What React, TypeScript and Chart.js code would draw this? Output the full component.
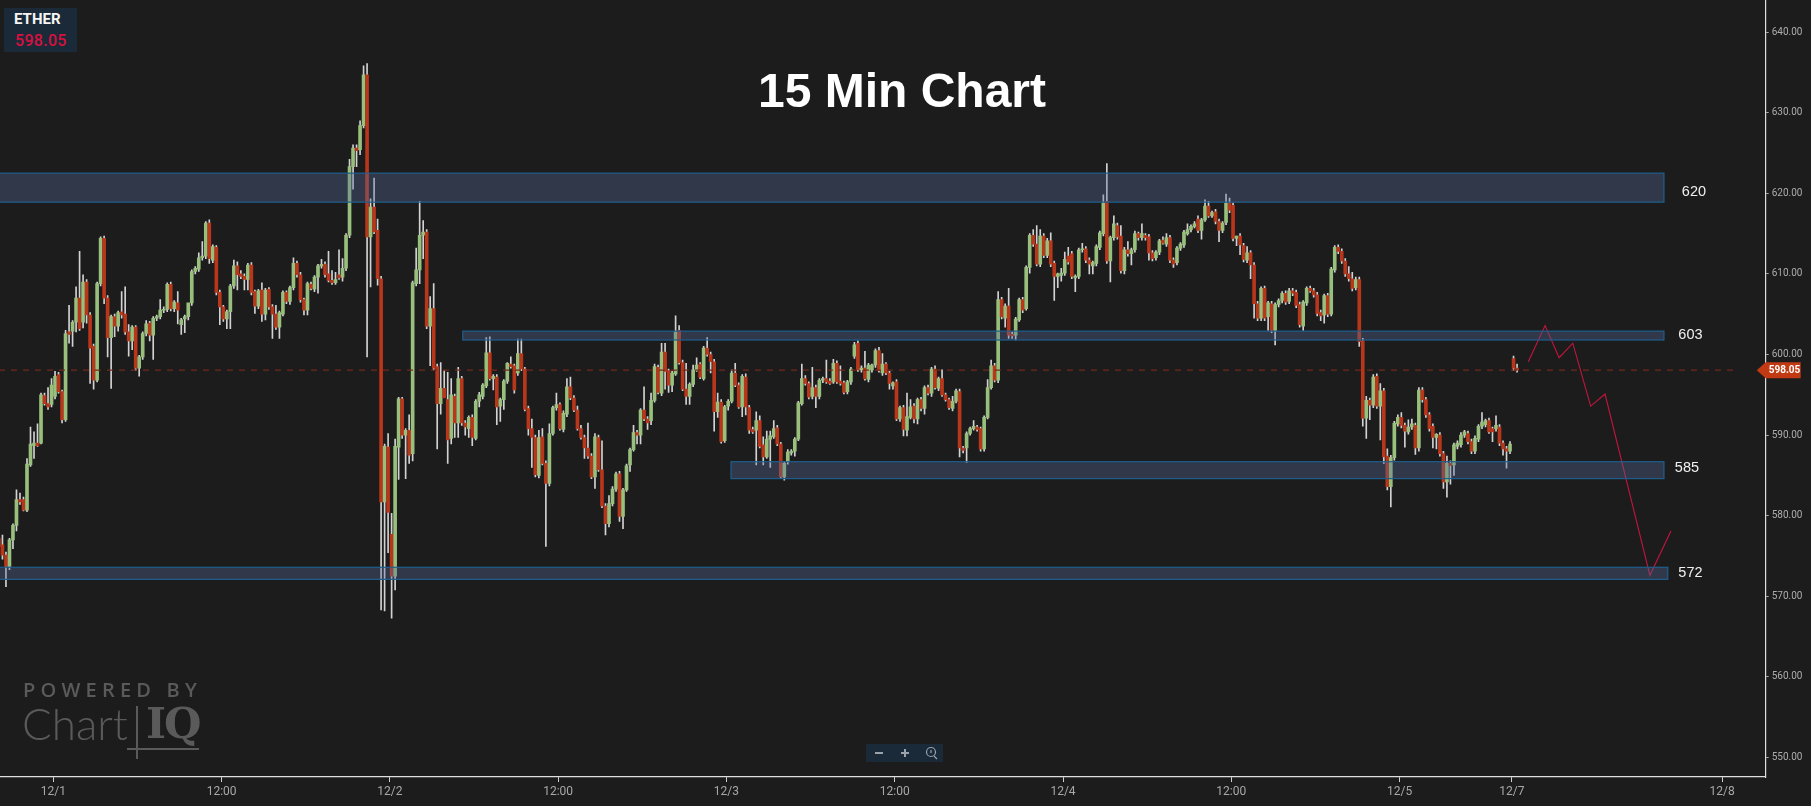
import React, { useEffect, useRef } from "react";
import { Chart, registerables } from "chart.js";
Chart.register(...registerables);

// rows: open, high, low, close
const candlesDec1: number[][] = [
[577.2,578,576,576.2],[576.4,577.6,574.6,575.1],[575.1,575.5,571.2,573.7],[573.7,577.2,573.3,577],[577,579,575.9,578.8],[578.8,583.2,578.1,582],[582,582.8,581.4,581.7],[582,582.3,580.6,580.7],[580.7,587.1,580.5,586.4],[586.3,591,586.1,588.9],[588.7,590.4,587.1,589],[589,591.4,588.6,588.7],[589,595.2,588.9,595],
[594.9,595.2,593.7,593.9],[593.9,595.9,593.2,593.5],[593.8,597,593.5,596.2],[594.8,597.9,594.5,597.3],[597.5,597.8,595.2,595.4],[595.4,595.6,591.5,591.9],[591.9,603,591.7,602.6],[602.8,606.1,601.4,602.5],[602.9,604.2,601,604],[604,608.4,602.8,607],[607,612.8,603,603.2],[604,609.9,603.3,609],[609,609.3,603.9,604.9],[604.9,605.2,596.4,600.8],[601,601.3,595.7,596.8],[596.8,609,596.6,608.8],[608.8,614.6,608.5,614.4],[614.4,614.7,606.3,607],[607,607.3,599.7,602.1],[602.1,604.9,595.8,604.7],[604.7,605,602.2,603.5],[603.5,605.4,602.9,605.2],[605.3,607.8,604.5,604.9],[605,608.4,602.5,602.8],[602.8,603.7,599.8,601.7],[601.7,603.6,600.6,603.4],[603.4,603.6,598,598.3],[598.3,599.9,597.3,599.7],[599.7,602.8,599.4,602.6],[602.6,604.2,602.3,603.8],[603.9,604.1,601.7,602.4],[602.4,604.7,599.4,604.5],[604.5,604.9,604.2,604.7],[604.7,606.8,604.4,605.5],[605.5,605.9,605.2,605.6],[605.6,608.9,605.3,608.7],
[608.7,609,605.4,605.7],[605.7,606.7,605.3,606.5],[606.4,607.8,603.8,605.5],[603.7,604.5,602.5,604.3],[604.4,604.9,602.7,604.7],[604.7,604.9,604.3,606.4],[606.4,610.5,606.1,610.3],[610.3,610.9,610,610.7],[610.6,612.6,610.3,612],[612,614,611.7,612.2],[612.2,616.5,611.9,616.3],[616.3,616.7,611.3,611.9],[611.7,613.6,611.4,613.4],[613.3,613.5,607.4,607.7],[607.7,608,603.7,605.9],[605.9,606.1,604.1,604.4],[604.4,605.5,603.2,605.3],[605.3,608.7,603.2,608.5],[608.5,611.7,608.2,611],[611,611.5,608,609.9],[610,610.4,609.4,609.7],[609.7,610,608,609.3],[609.3,611.3,608,611.1],[611.1,611.4,607.4,607.7],[607.8,608,605.1,606],[606,608.1,605.7,607.9],[608,608.9,604.1,605],[605,608.2,604.3,608],[608.1,608.3,605.6,605.9],[605.9,606.2,602,605],[605,606.1,603.1,603.4],[603.4,605.4,602,605.2],[605,607.9,604.8,607.7],[607.7,607.9,606.3,606.6],[606.6,608.5,606.2,608.3],[608.3,612,608,611.3],[611.3,611.6,609.6,609.9],[609.9,610.2,606.5,606.8],[606.8,607,604.9,605.5],[605.5,609,604.9,608.8],[608.7,609,608,608.2],[608.1,609.8,607.8,609.6],[609.6,611.2,607.6,611],[611,611.8,610.7,611.2],[611.2,611.5,609.6,609.9],[610,612.8,609,609.2],[609.2,610.4,608.7,608.9],[608.9,610.2,608.7,609.3],
[609.9,613,609.3,609.5],[609.6,611.9,609.1,610.7],[610.7,615,610.4,614.8],[614.8,624.2,614.5,623.3],[623.3,626,620.5,625.6],[625.6,626,623.3,625.3],[625.4,629,624.8,628.4],[628.4,635.8,628.1,634.7],[634.7,636.1,599.7,614.6],[614.6,619.3,608.4,618.3],[618.3,621.9,615,615.2],[615.4,616.8,608.6,609.4],[609.4,609.7,568.3,581.7],[581.7,588.9,568.2,588.6],[588.5,590.2,575.4,580.4],[577.7,580.3,567.3,572.5],[572.5,589.5,570.8,588.6],[588.5,594.7,584.5,594.5],[594.5,594.7,589.6,590],[590,590.8,584.6,590.6],[590.6,592.5,586.5,587.5],[587.7,609.1,586.8,608.9],[608.8,613.2,608.5,610.5],[610.5,619,608.8,614.8],[614.8,616.6,611.9,615.2],[615.2,615.5,603.2,603.5],[603.5,607.2,598.6,605.7],[605.7,608.8,598.1,598.3],[598.5,598.8,588.3,593.9],[593.9,599,592.6,595.8],[595.8,598,594.8,594.6],[594.4,597.8,586.5,589.4]
];
const candlesDec2: number[][] = [
[589.6,597,588.9,595],[594.8,595.1,589.7,591.5],[591.5,598.4,589.7,597],[597,597.3,591.2,591.5],[591.5,591.8,590,591],[590.8,592.4,589.7,592.2],[592.2,592.5,588.7,589.7],[589.6,594.4,589.4,594.2],[594.2,595.3,593.5,595],[594.8,596.4,594.5,596.2],[596.1,602.1,595.9,600.2],[600.2,602.2,596.8,597],[597,597.5,595.6,597.3],[597.2,597.5,591.3,593.5],[593.6,594.6,591.7,594.4],[594.4,596.9,593.2,596.7],[596.7,599,596.4,598.9],[598.8,599.7,598.3,598.5],[598.6,598.8,595.2,595.6],[597.7,601.9,597.4,600.1],[600.1,601.9,598,598.2],[598.2,598.4,593,593.2],[593.3,593.6,590,590.8],[590.8,592,586,589.7],[589.7,590,584.8,585.1],[585,590.6,584.7,589.7],[589.8,590.8,586.3,586.5],[586.5,586.8,576.2,584],[584,591.4,583.7,590.2],[590.2,593.6,590,593.4],[593.4,595.2,593.1,593.8],[593.8,594,590.6,590.8],[590.7,593,590.4,592.7],[592.6,597,592.3,596],[596,597.2,594.4,594.6],[594.6,594.9,592.9,593.1],[593.1,593.6,590.6,590.8],[590.8,591.2,589.5,589.7],[589.7,590,587.1,588.4],[588.4,591.5,587.1,587.4],[587.4,587.7,584.6,584.8],[584.8,590.2,583.4,589.8],[589.7,590,585.5,585.7],[585.7,589.3,581,581.2],[581.2,581.5,577.6,579],[579,582.5,578.6,581.5],[581.5,583.6,581.2,583.3],[583.3,585.4,583,585.2],[585.2,585.5,579.3,579.9],[579.9,583.4,578.4,583.2],[583.2,586.4,583,586.2],[586.3,588.4,585.5,588.2],[588.2,591.2,588,590.3],[590.3,590.6,588.9,590],[590,593.3,588.9,593.1],[593.1,596,591.8,592],[592,592.3,590.7,591.5],[591.8,595.2,591.3,594.3],[594.3,598.8,594.1,598.5],[598.4,598.7,595.1,595.3],[595.2,601.4,594.9,600.3],[600.3,601.4,595.7,597.9],[598,598.2,595.3,596.2],[596.2,597.9,595.4,597.7],[597.6,604.8,597.4,602.8],[603,603.6,598.8,599],[599,599.3,595.5,595.7],[595.7,598.9,593.8,594.8],[594.8,596.5,593.8,596.3],[596.3,598.7,596,598.1],[598.1,599.6,597.9,598.7],[598.8,599,597,597.2],[597,601,596.8,600.8],[600.8,602.1,599.8,600],[600,600.3,597.7,599.1],[599.1,599.4,590.5,592.9],[592.9,595.2,592.2,594.1],[594.1,594.4,589,589.2],[589.3,593.7,589.1,593.5],[593.6,594.4,593.1,594.2],[594.2,598.1,594,597.7],[597.7,598.9,596,596.2],[596.2,596.5,593.3,593.5],[593.5,597.5,592.3,597.3],[597.2,597.6,592.5,593.5],[593.4,593.7,590.2,590.6],[590.7,591,590.2,590.4],[590.6,592.9,586.3,591.8],[591.8,592.4,588.4,588.6],[588.8,589.8,586.3,587.3],[587.3,590.5,587.1,589.5],[589.5,590.5,586,589.9],[589.8,591.8,589.6,590.8],[590.9,591.2,588.7,588.9],[588.9,589.1,584.6,584.8],[584.8,586.7,584.4,586.5],[586.7,588.2,586.4,587.9],[587.8,588.2,587.5,588],[588,589.7,587.4,589.5],[589.5,594.2,589.3,594],[593.9,598.8,593.7,597],[597,597.4,596.2,596.4],[596.4,596.6,594.5,594.7],[594.8,598.4,594.5,595.9],[595.9,596.2,593.4,594.8],[594.8,597,594.5,596.8],[596.8,597.2,596.5,597],[597,599.3,596.4,596.6],[596.7,597,596.3,596.4],[596.6,599.4,596.4,598.9],[598.9,599.2,596.4,596.6],[596.7,598.6,596.2,596.4],[596.5,596.7,595.1,595.3],[595.4,596.8,595.1,596.6],[596.6,598.4,596.3,598.2],[599.8,601.5,599.5,601.2],[601.4,601.7,597.9,598.1],[598.1,598.6,597.8,598.3],[598.3,600.4,596.8,597],[596.9,598.9,596.6,598.7],[598.1,598.8,597.8,598.7],[598.7,600.7,598.4,600.5],[600.5,600.9,597.8,598],[597.7,600.1,597.4,598.8],[598.8,599,597.5,597.7],[597.7,597.9,595.7,596.4],[596.1,596.6,595.7,596.5],[596.6,596.9,591.8,592],[592,593.6,591.7,593.4],[593.4,593.7,589.9,590.7],[590.6,595.2,589.9,592.3],[592.2,594.4,592,593.5],[593.6,593.9,591.5,592],[592,594.6,591.4,594.4],[594.4,594.7,593,593.3],[593.3,596.1,592.6,595.9],[595.9,596.2,595,595.2],[595.2,598.4,594.8,598.2],[598.2,598.6,595.7,595.9],[595.8,597.2,595.5,597],[597,598.1,594.8,595],[595,595.2,594.2,594.4],[594.4,594.6,593.2,593.4],[593.3,594.8,593,594.2],[594.2,595.7,594,595.5],[595.4,595.7,587.3,588.4],[588.4,588.6,587.8,588.1],[588.4,590.4,586.6,590.2],[590.2,591,590,590.8],[590.8,591.8,590.6,591.1],[591,591.2,590.5,590.7],[590.8,591,588,588.3],[588.3,592.4,588,592.2],[592.2,596.9,592,595.9],[595.9,599.3,595.7,598.6],[598.6,598.9,596.6,596.8]
];
const candlesDec3: number[][] = [
[596.8,607.8,596.5,606.8],[606.8,607.1,604.4,604.7],[604.5,606.3,603.4,606],[606,608.2,602,602.4],[602.5,602.8,602,602.3],[602.4,604.6,601.8,604.4],[604.3,607,604.1,606.8],[606.8,607.1,605.2,605.5],[605.7,611,605.5,610.8],[610.8,615,610.1,614.8],[614.8,615.5,613.4,613.7],[613.7,616,611,611.2],[611.2,615.5,610.9,614.7],[614.7,615,612,612.3],[612.3,614.4,612,614.1],[614.1,615.1,610.9,611.2],[611.3,611.6,606.7,609.7],[609.7,610.1,608.3,610],[609.8,610.7,609.1,610.1],[610.1,612.7,609.8,611.8],[612.2,613.3,611.2,611.5],[612.5,612.8,609.4,609.7],[609.5,609.9,607.8,609.7],[609.7,613.2,609.4,613],[613,613.8,612.7,613.1],[613.1,613.4,611.4,611.7],[611.7,612,610,611.2],[611,611.6,610,611.4],[611.3,613.6,611,613.4],[613.3,615.3,613,615.1],[615,619.8,614.7,618.8],[619,623.7,611.3,611.6],[611.6,614.7,609,614.5],[614.5,617.2,614.2,616.2],[616,616.3,614.3,614.6],[614.7,616,610.1,610.4],[610.4,613.3,610,613],[613,614,612.2,612.5],[612.5,613.2,611.1,613],[613,615.3,612.7,615],[615,615.2,614.2,614.5],[614.5,616.2,614.2,615],[614.8,615,614.2,614.5],[614.6,614.9,611.7,612.6],[612.6,612.9,611.6,611.9],[612,612.9,611.7,612.7],[612.7,614.3,612.4,614.1],[614.2,614.6,613.7,613.8],[613.7,615,613.4,614.5],[614.5,614.8,611.4,611.7],[611.7,612,610.8,611.2],[611.4,613.4,611.1,613.2],[613.2,613.9,612.9,613.7],[613.6,615.4,613.3,615.2],[615,616.2,614.8,615.5],[615.5,616.1,615.2,615.9],[615.9,616.5,615.7,616.2],[616.8,617.2,615.1,615.4],[615.4,616.9,614.3,616.7],[616.7,619.2,616.5,618.4],[618.4,619,617,617.2],[617.2,617.8,617,617.6],[617.7,618,616.2,616.5],[616.5,616.8,614,615.4],[615.4,616.5,615.1,616.3],[616.4,619.9,616.1,618.8],[618.8,619.4,617.6,617.9],[618.5,618.8,614.1,614.4],[614.4,614.7,613.5,614.7],[614.7,615,612.4,613.6],[613.5,613.8,611.5,611.8],[611.7,613.4,611.4,612.6],[612.6,612.9,609.4,611.1],[611.1,611.4,604.5,606.3],[606.3,606.6,604.2,604.5],[604.5,608.4,604.2,608.2],[608.2,608.5,604.2,604.5],[604.7,606.6,603,606.4],[606.3,606.6,602.7,603],[603,606.4,601.2,606.2],[606.2,606.9,605.9,606.7],[606.7,607.8,606.4,607.6],[607.6,607.9,606.2,606.5],[606.6,608.2,606.3,607.9],[607.9,608.2,607.3,607.6],[607.7,608,605.8,606.1],[606.2,606.5,603.4,603.7],[603.5,606.7,603,606.5],[606.4,608.4,606.1,608.2],[608.2,608.5,607.7,607.9],[607.9,608.2,607.1,607.4],[607.4,607.7,604.8,605.1],[605.2,605.5,604.2,604.8],[604.9,607.5,603.9,607.3],[607.3,607.6,604.7,605],[605,610.8,604.8,610.6],[610.5,613.5,610.2,613.3],[613.3,613.6,612.5,612.8],[612.8,613.1,611.3,611.6],[611.6,611.9,609.7,610],[610,610.9,609.1,609.4],[609.4,610.2,607.9,608.2],[608.3,609.6,608,609.3],[609.3,609.6,601,601.6],[601.7,602,591.1,592.1],[592.1,594.8,589.6,594.3],[594.3,594.6,591.9,593.7],[593.7,597.5,593.4,597.2],[597.3,597.6,593.3,593.6],[593.6,596.4,589.4,595.5],[595.5,595.8,586.5,587.3],[587.4,588.3,583.2,583.6],[583.6,587.5,581.1,587.2],[587.2,591.7,586.9,591.5],[591.4,592.5,591.1,592.2],[592.2,592.8,590.9,591.2],[591.2,591.5,588.5,590.5],[590.4,591.9,590.1,591],[591,592,590.7,591.4],[591.2,591.5,587.6,588.4],[588.4,595.9,588,595.6],[595.6,595.9,594.1,594.4],[594.4,594.7,592.2,592.5],[592.5,592.8,590.5,590.8],[591.1,591.4,588.4,589.7],[589.7,590.2,588.3,590.1],[590,590.3,587.4,587.7],[587.7,588,583.4,584.2],[584.2,587.4,582.3,586.5],[586.5,586.8,583.9,586.2],[586.3,589,585,588.8],[588.6,589.3,588.3,589],[588.8,590.3,588.5,590],[590,590.6,589.7,590.4],[590.2,590.5,588.9,589.2],[589.2,589.5,587.7,588],[588,589.9,587.7,589.6],[589.5,591.3,589.2,591.1],[591.1,592.8,590.8,591.6],[591.3,592,591,591.8],[591.8,592.1,590.2,590.4],[590.8,591,589.2,590.4],[590.8,592.4,590.5,591.2],[591,591.3,588.7,589],[589,589.3,587.5,588.3],[588.3,588.6,585.9,588],[588,589.2,587.7,588.9],[599.5,599.8,598,598.3],[598.3,598.8,597.8,598.05]
];
const sectionStarts = [-1, 128, 284];
const sections = [candlesDec1, candlesDec2, candlesDec3];

const axisIndex = [14.5, 62.5, 110.5, 158.5, 206.5, 254.5, 302.5, 350.5, 398.5, 430.5, 490.5];
const axisLabels = ["12/1", "12:00", "12/2", "12:00", "12/3", "12:00", "12/4", "12:00", "12/5", "12/7", "12/8"];
const priceTicks = [640, 630, 620, 610, 600, 590, 580, 570, 560, 550];

const zoneLabels = ["620", "603", "585", "572"];
const zoneHighs = [622.5, 602.9, 586.7, 573.6];
const zoneLows = [618.9, 601.8, 584.6, 572.1];
const zoneStarts = [-1, 131.3, 207.8, -1];
const zoneEnds = [473.9, 473.9, 473.9, 475];
const zoneLabelIndex = [479, 478, 477, 478];
const zoneLabelPrice = [620.2, 602.4, 585.9, 572.9];

const forecastX = [435.2, 440, 444, 447.9, 453, 457.1, 469.9, 475.9];
const forecastY = [599.1, 603.6, 599.6, 601.4, 593.6, 595.1, 572.6, 578.1];

const lastPrice = 598.05;
const GREEN = "#98c07c";
const RED = "#b8361a";

const bodyData: any[] = [];
const wickData: any[] = [];
const bodyColors: string[] = [];
sections.forEach((rows, s) => {
  rows.forEach((r, i) => {
    const x = sectionStarts[s] + i;
    bodyData.push({ x, y: [r[0], r[3]] });
    wickData.push({ x, y: [r[2], r[1]] });
    bodyColors.push(r[3] >= r[0] ? GREEN : RED);
  });
});

const overlayPlugin = {
  id: "overlay",
  afterDatasetsDraw(chart: any) {
    const { ctx, scales, chartArea } = chart;
    const xs = scales.x;
    const ys = scales.y;
    ctx.save();
    ctx.beginPath();
    ctx.rect(chartArea.left, chartArea.top, chartArea.width, chartArea.height);
    ctx.clip();
    zoneLabels.forEach((_, i) => {
      const l = xs.getPixelForValue(zoneStarts[i]);
      const r = xs.getPixelForValue(zoneEnds[i]);
      const t = ys.getPixelForValue(zoneHighs[i]);
      const b = ys.getPixelForValue(zoneLows[i]);
      ctx.fillStyle = "rgba(85,108,154,0.36)";
      ctx.fillRect(l, t, r - l, b - t);
      ctx.strokeStyle = "#1f5f8e";
      ctx.lineWidth = 1.2;
      ctx.strokeRect(l, t, r - l, b - t);
    });
    ctx.fillStyle = "#f0f0f0";
    ctx.font = "14.5px 'Liberation Sans'";
    ctx.textBaseline = "middle";
    zoneLabels.forEach((t, i) => {
      ctx.fillText(t, xs.getPixelForValue(zoneLabelIndex[i]), ys.getPixelForValue(zoneLabelPrice[i]));
    });
    ctx.restore();
    const y = ys.getPixelForValue(lastPrice);
    const tip = chartArea.right - 9;
    ctx.save();
    ctx.fillStyle = "#c23a14";
    ctx.beginPath();
    ctx.moveTo(tip, y);
    ctx.lineTo(tip + 9, y - 8);
    ctx.lineTo(tip + 44, y - 8);
    ctx.lineTo(tip + 44, y + 8);
    ctx.lineTo(tip + 9, y + 8);
    ctx.closePath();
    ctx.fill();
    ctx.fillStyle = "#fff";
    ctx.font = "bold 10px Roboto";
    ctx.textBaseline = "middle";
    ctx.fillText(lastPrice.toFixed(2), tip + 12, y + 0.5);
    ctx.restore();
  },
};

const boxBg = "#1b2a38";

export default function App() {
  const ref = useRef<HTMLCanvasElement>(null);
  useEffect(() => {
    document.body.style.margin = "0";
    document.body.style.background = "#1c1c1c";
    const xMin = -0.7;
    const pxPerCandle = 3.506;
    const chart = new Chart(ref.current!, {
      type: "bar",
      data: {
        datasets: [
          { type: "bar", data: wickData, backgroundColor: "#d2d2d2", barThickness: 1, grouped: false, order: 4 } as any,
          { type: "bar", data: bodyData, backgroundColor: bodyColors, barThickness: 3, grouped: false, order: 3 } as any,
          {
            type: "line",
            data: [{ x: -1, y: lastPrice }, { x: 495, y: lastPrice }],
            borderColor: "#73291c",
            borderWidth: 1.2,
            borderDash: [6, 6],
            pointRadius: 0,
            order: 2,
          } as any,
          {
            type: "line",
            data: forecastX.map((x, i) => ({ x, y: forecastY[i] })),
            borderColor: "#c5153f",
            borderWidth: 1.1,
            pointRadius: 0,
            tension: 0,
            order: 1,
          } as any,
        ],
      },
      options: {
        responsive: false,
        animation: false,
        devicePixelRatio: 1,
        layout: { padding: 0 },
        plugins: { legend: { display: false }, tooltip: { enabled: false }, title: { display: false } },
        scales: {
          x: {
            type: "linear",
            min: xMin,
            max: xMin + 1765.7 / pxPerCandle,
            offset: false,
            afterBuildTicks: (s: any) => { s.ticks = axisIndex.map((value) => ({ value })); },
            afterFit: (s: any) => { s.height = 29; s.paddingLeft = 0; s.paddingRight = 0; },
            grid: { display: true, offset: false, drawOnChartArea: false, tickLength: 5, tickColor: "#cfcfcf" },
            border: { color: "#dedede", width: 1.2 },
            ticks: {
              autoSkip: false,
              maxRotation: 0,
              color: "#a8a8a8",
              font: { family: "Roboto", size: 12 },
              padding: 3,
              callback: (v: any) => axisLabels[axisIndex.indexOf(Number(v))] ?? "",
            },
          },
          y: {
            position: "right",
            min: 600 - (777 - 354.5) / 8.06,
            max: 600 + 354.5 / 8.06,
            afterBuildTicks: (s: any) => { s.ticks = priceTicks.map((value) => ({ value })); },
            afterFit: (s: any) => { s.width = 1811 - 1765.7; s.paddingTop = 0; s.paddingBottom = 0; },
            grid: { display: true, drawOnChartArea: false, tickLength: 3, tickColor: "#a8a8a8" },
            border: { color: "#dedede", width: 1.2 },
            ticks: {
              color: "#adadad",
              font: { family: "Roboto", size: 10 },
              padding: 3,
              callback: (v: any) => Number(v).toFixed(2),
            },
          },
        },
      },
      plugins: [overlayPlugin],
    } as any);
    return () => chart.destroy();
  }, []);

  const abs = (o: React.CSSProperties): React.CSSProperties => ({ position: "absolute", ...o });
  const mark = "#5a5a5a";
  return (
    <div style={{ position: "relative", width: 1811, height: 806, background: "#1c1c1c", overflow: "hidden" }}>
      <canvas ref={ref} width={1811} height={806} style={{ display: "block", width: 1811, height: 806 }} />
      <div style={abs({ left: 0, top: 60, width: 1804, textAlign: "center", font: "bold 48px 'Liberation Sans'", color: "#fff", lineHeight: "62px" })}>15 Min Chart</div>
      <div style={abs({ left: 4, top: 8, width: 73, height: 44, background: boxBg })} />
      <div style={abs({ left: 14, top: 10, font: "bold 15px Roboto", color: "#f5f5f5", lineHeight: "18px" })}>ETHER</div>
      <div style={abs({ left: 15, top: 31, font: "500 16px Roboto", color: "#d8103f", lineHeight: "20px", letterSpacing: 0.3 })}>598.05</div>

      <div style={abs({ left: 23, top: 678, font: "600 20px 'Open Sans'", color: mark, letterSpacing: 5.2, lineHeight: "24px", whiteSpace: "nowrap" })}>POWERED BY</div>
      <div style={abs({ left: 22, top: 698, font: "300 44px Lato", color: mark, lineHeight: "50px" })}>Chart</div>
      <div style={abs({ left: 146, top: 698, font: "bold 43px 'DejaVu Serif'", color: mark, lineHeight: "50px", letterSpacing: -2 })}>IQ</div>
      <div style={abs({ left: 136, top: 706, width: 2, height: 53, background: mark })} />
      <div style={abs({ left: 127, top: 748, width: 72, height: 2, background: mark })} />

      <div style={abs({ left: 866, top: 744, width: 77, height: 18, background: boxBg })} />
      <svg style={abs({ left: 866, top: 744 })} width={77} height={18} fill="none" stroke="#9aa3aa">
        <path d="M9 9H17" strokeWidth={2} />
        <path d="M35 9H43M39 5V13" strokeWidth={2} />
        <circle cx={65} cy={8} r={4.5} strokeWidth={1.2} />
        <path d="M68 12L71 15M65 6V9" strokeWidth={1.2} />
      </svg>
    </div>
  );
}
